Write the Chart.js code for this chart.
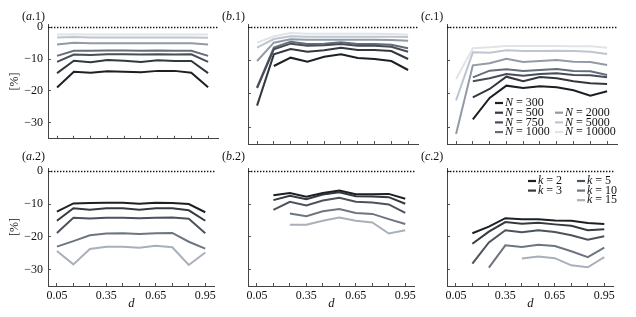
<!DOCTYPE html>
<html>
<head>
<meta charset="utf-8">
<script src="https://cdn.jsdelivr.net/npm/chart.js@4.4.1/dist/chart.umd.min.js"></script>
<style>
  html, body { margin: 0; padding: 0; background: #fff; }
  #wrap { position: relative; width: 636px; height: 317px; overflow: hidden; }
  #wrap canvas { position: absolute; }
</style>
</head>
<body>
<div id="wrap">
  <canvas id="a1"></canvas>
  <canvas id="b1"></canvas>
  <canvas id="c1"></canvas>
  <canvas id="a2"></canvas>
  <canvas id="b2"></canvas>
  <canvas id="c2"></canvas>
</div>
<script>
const dValues = [0.05, 0.15, 0.25, 0.35, 0.45, 0.55, 0.65, 0.75, 0.85, 0.95];
const xLabelTicks = [0.05, 0.35, 0.65, 0.95];
const yTicks = [-30, -20, -10, 0];

const nValues = [300, 500, 750, 1000, 2000, 5000, 10000];
const kValues = [2, 3, 5, 10, 15];
const nColors = ['#1c1f24', '#33383f', '#474e57', '#646d79', '#919aa7', '#bfc5ce', '#e0e4e9'];
const kColors = ['#1c1f24', '#353a41', '#4b535c', '#6c7581', '#a9b0ba'];

// top row: one line per N
const a1Series = [
  [-18.9, -14.0, -14.3, -13.8, -14.0, -14.1, -13.7, -13.7, -14.3, -18.8],
  [-14.4, -10.5, -11.0, -10.3, -10.5, -10.9, -10.4, -10.6, -10.6, -14.4],
  [-10.9, -8.6, -8.7, -8.5, -8.5, -8.6, -8.5, -8.6, -8.5, -10.9],
  [-9.0, -7.4, -7.4, -7.3, -7.3, -7.4, -7.3, -7.4, -7.4, -9.0],
  [-5.4, -4.9, -5.0, -5.0, -5.0, -5.0, -5.0, -5.0, -5.0, -5.4],
  [-3.2, -3.1, -3.2, -3.2, -3.2, -3.2, -3.2, -3.2, -3.2, -3.3],
  [-2.3, -2.2, -2.3, -2.3, -2.3, -2.3, -2.3, -2.3, -2.3, -2.3]
];
const b1Series = [
  [null, -11.6, -9.1, -10.3, -8.8, -8.1, -9.2, -9.5, -10.1, -12.8],
  [-23.5, -8.1, -6.5, -7.3, -6.9, -6.1, -6.8, -6.8, -7.1, -9.5],
  [-18.2, -6.6, -4.9, -5.5, -5.4, -5.0, -5.5, -5.5, -5.8, -7.3],
  [-18.0, -6.1, -4.3, -5.0, -4.9, -4.5, -5.0, -5.0, -5.2, -6.3],
  [-10.1, -4.6, -3.6, -3.7, -3.7, -3.7, -3.7, -3.7, -3.8, -4.0],
  [-6.1, -3.5, -2.7, -2.8, -2.8, -2.8, -2.8, -2.8, -2.8, -2.9],
  [-4.6, -2.7, -1.7, -1.9, -1.9, -1.9, -1.9, -1.9, -2.0, -2.2]
];
const c1Series = [
  [null, -27.6, -21.2, -17.5, -18.2, -17.7, -18.0, -18.9, -20.5, -19.2],
  [null, -21.0, -18.5, -14.8, -16.2, -14.9, -15.3, -16.2, -16.8, -17.0],
  [null, -16.2, -15.3, -14.0, -14.5, -14.0, -13.8, -14.3, -14.4, -15.0],
  [null, -15.0, -13.0, -12.6, -13.1, -12.8, -12.5, -13.1, -13.2, -14.3],
  [-32.0, -11.4, -10.8, -9.4, -10.4, -10.1, -9.8, -10.3, -10.4, -11.3],
  [-21.9, -7.5, -7.6, -6.9, -7.1, -7.1, -7.0, -7.1, -7.3, -8.0],
  [-15.5, -6.3, -6.0, -5.6, -5.6, -5.6, -5.6, -5.7, -5.7, -6.1]
];

// bottom row: one line per k
const a2Series = [
  [-12.3, -9.8, -9.7, -9.6, -9.6, -9.9, -9.6, -9.7, -10.0, -12.5],
  [-15.1, -11.3, -11.7, -11.3, -11.3, -11.7, -11.3, -11.3, -11.9, -15.1],
  [-18.8, -14.2, -14.4, -14.2, -14.2, -14.3, -14.2, -14.1, -14.5, -18.9],
  [-23.0, -21.3, -19.5, -19.0, -18.9, -19.1, -18.9, -18.8, -21.5, -23.6],
  [-24.3, -28.4, -23.7, -23.0, -23.0, -23.3, -22.7, -23.2, -28.6, -24.8]
];
const b2Series = [
  [null, -7.3, -6.6, -7.8, -6.6, -5.9, -7.0, -7.0, -6.9, -8.4],
  [null, -8.8, -7.5, -8.5, -7.1, -6.4, -7.6, -7.7, -7.9, -9.9],
  [null, -11.8, -9.3, -10.4, -8.9, -8.1, -9.3, -9.5, -10.1, -12.7],
  [null, null, -12.9, -13.7, -12.2, -11.5, -12.7, -13.0, -14.6, -16.1],
  [null, null, -16.3, -16.3, -15.1, -14.1, -15.1, -15.6, -19.0, -18.0]
];
const c2Series = [
  [null, -18.9, -16.9, -14.3, -14.6, -14.6, -15.0, -15.1, -15.8, -16.1],
  [null, -22.1, -18.4, -15.5, -16.0, -15.7, -16.2, -16.6, -18.0, -17.7],
  [null, -28.2, -21.7, -18.0, -18.6, -18.0, -18.5, -19.5, -20.9, -19.8],
  [null, null, -29.4, -22.6, -23.1, -22.4, -22.8, -24.4, -26.2, -23.3],
  [null, null, null, null, -26.6, -26.0, -26.5, -28.7, -29.3, -26.2]
];

const FONT = '"Liberation Serif", "Times New Roman", serif';
const colLeft = { a: 48, b: 248, c: 447 };
const rowBox = {
  1: { top: 0, plotTop: 24, plotBottom: 144, height: 154, labelDy: 7 },
  2: { top: 150, plotTop: 168, plotBottom: 286, height: 167, labelDy: 11.5 }
};

function drawRich(ctx, parts, x, y, size) {
  parts.forEach(([txt, italic]) => {
    ctx.font = (italic ? 'italic ' : '') + size + 'px ' + FONT;
    ctx.fillText(txt, x, y);
    x += ctx.measureText(txt).width;
  });
}

// dotted zero line, panel tag and the hand-placed legends
const decorPlugin = {
  id: 'decor',
  beforeDatasetsDraw(chart) {
    const { ctx, chartArea, scales } = chart;
    const y0 = Math.round(scales.y.getPixelForValue(0)) + 0.5;
    ctx.save();
    ctx.strokeStyle = '#111';
    ctx.lineWidth = 1.3;
    ctx.setLineDash([1.4, 1.6]);
    ctx.beginPath();
    ctx.moveTo(chartArea.left, y0);
    ctx.lineTo(chartArea.right, y0);
    ctx.stroke();
    ctx.restore();
  },
  afterDraw(chart, args, opts) {
    const { ctx, chartArea } = chart;
    ctx.save();
    ctx.fillStyle = '#111';
    ctx.textBaseline = 'middle';
    ctx.textAlign = 'left';
    drawRich(ctx, [['(', false], [opts.letter, true], ['.' + opts.row + ')', false]],
      chartArea.left - 26, chartArea.top - opts.labelDy, 12);
    const lg = opts.legend;
    if (lg) {
      lg.columns.forEach((col, ci) => {
        col.forEach((idx, ri) => {
          const hx = chartArea.left + lg.x[ci];
          const hy = chartArea.top + lg.y + (ri + lg.startRow[ci]) * lg.rowH;
          ctx.strokeStyle = lg.colors[idx];
          ctx.lineWidth = 2.2;
          ctx.beginPath();
          ctx.moveTo(hx, hy);
          ctx.lineTo(hx + 8, hy);
          ctx.stroke();
          ctx.fillStyle = '#111';
          drawRich(ctx, [[lg.symbol, true], [' = ' + lg.values[idx], false]], hx + 10, hy, 12);
        });
      });
    }
    ctx.restore();
  }
};

function makePanel(id, letter, row, series, colors, labels, legend) {
  const r = rowBox[row];
  const canvas = document.getElementById(id);
  canvas.width = 222;
  canvas.height = r.height;
  canvas.style.left = (colLeft[letter] - 48) + 'px';
  canvas.style.top = r.top + 'px';

  const datasets = series.map((vals, i) => ({
    label: labels[i],
    data: vals.map((v, j) => ({ x: dValues[j], y: v })),
    borderColor: colors[i],
    borderWidth: 2,
    pointRadius: 0,
    tension: 0,
    fill: false,
    spanGaps: false
  }));

  const tickGrid = { drawOnChartArea: false, drawTicks: true, tickLength: -3, tickColor: '#555', tickWidth: 1 };
  const axisBorder = { display: true, color: '#444', width: 1 };

  return new Chart(canvas.getContext('2d'), {
    type: 'line',
    data: { datasets: datasets },
    plugins: [decorPlugin],
    options: {
      responsive: false,
      animation: false,
      devicePixelRatio: 1,
      layout: { padding: { left: 0, right: 4, top: r.plotTop - r.top, bottom: 0 } },
      plugins: {
        legend: { display: false },
        tooltip: { enabled: false },
        decor: { letter: letter, row: row, labelDy: r.labelDy, legend: legend }
      },
      scales: {
        x: {
          type: 'linear',
          min: -0.004,
          max: 1.009,
          afterBuildTicks: (s) => { s.ticks = dValues.map((v) => ({ value: v })); },
          afterFit: (s) => { s.height = r.height - (r.plotBottom - r.top); },
          ticks: {
            display: row === 2,
            autoSkip: false,
            maxRotation: 0,
            padding: 6,
            color: '#111',
            font: { family: FONT, size: 12 },
            callback: (v) => xLabelTicks.some((t) => Math.abs(t - v) < 1e-6) ? v.toFixed(2) : ''
          },
          grid: tickGrid,
          border: axisBorder,
          title: {
            display: row === 2,
            text: 'd',
            color: '#111',
            font: { family: FONT, size: 12.5, style: 'italic' },
            padding: { top: 0, bottom: 6 }
          }
        },
        y: {
          min: -35,
          max: 1,
          afterBuildTicks: (s) => { s.ticks = yTicks.map((v) => ({ value: v })); },
          afterFit: (s) => { s.width = 48; },
          ticks: {
            display: letter === 'a',
            padding: 8,
            color: '#111',
            font: { family: FONT, size: 12 },
            callback: (v) => v < 0 ? '\u2212' + Math.abs(v) : String(v)
          },
          grid: tickGrid,
          border: axisBorder,
          title: {
            display: letter === 'a',
            text: '[%]',
            color: '#111',
            font: { family: FONT, size: 12 },
            padding: { top: 8, bottom: 0 }
          }
        }
      }
    }
  });
}

const nLabels = nValues.map((n) => 'N = ' + n);
const kLabels = kValues.map((k) => 'k = ' + k);

const nLegend = {
  symbol: 'N', values: nValues, colors: nColors,
  columns: [[0, 1, 2, 3], [4, 5, 6]], startRow: [0, 1],
  x: [48, 108], y: 79, rowH: 9.7
};
const kLegend = {
  symbol: 'k', values: kValues, colors: kColors,
  columns: [[0, 1], [2, 3, 4]], startRow: [0, 0],
  x: [81, 130], y: 13, rowH: 9.6
};

makePanel('a1', 'a', 1, a1Series, nColors, nLabels, null);
makePanel('b1', 'b', 1, b1Series, nColors, nLabels, null);
makePanel('c1', 'c', 1, c1Series, nColors, nLabels, nLegend);
makePanel('a2', 'a', 2, a2Series, kColors, kLabels, null);
makePanel('b2', 'b', 2, b2Series, kColors, kLabels, null);
makePanel('c2', 'c', 2, c2Series, kColors, kLabels, kLegend);
</script>
</body>
</html>
